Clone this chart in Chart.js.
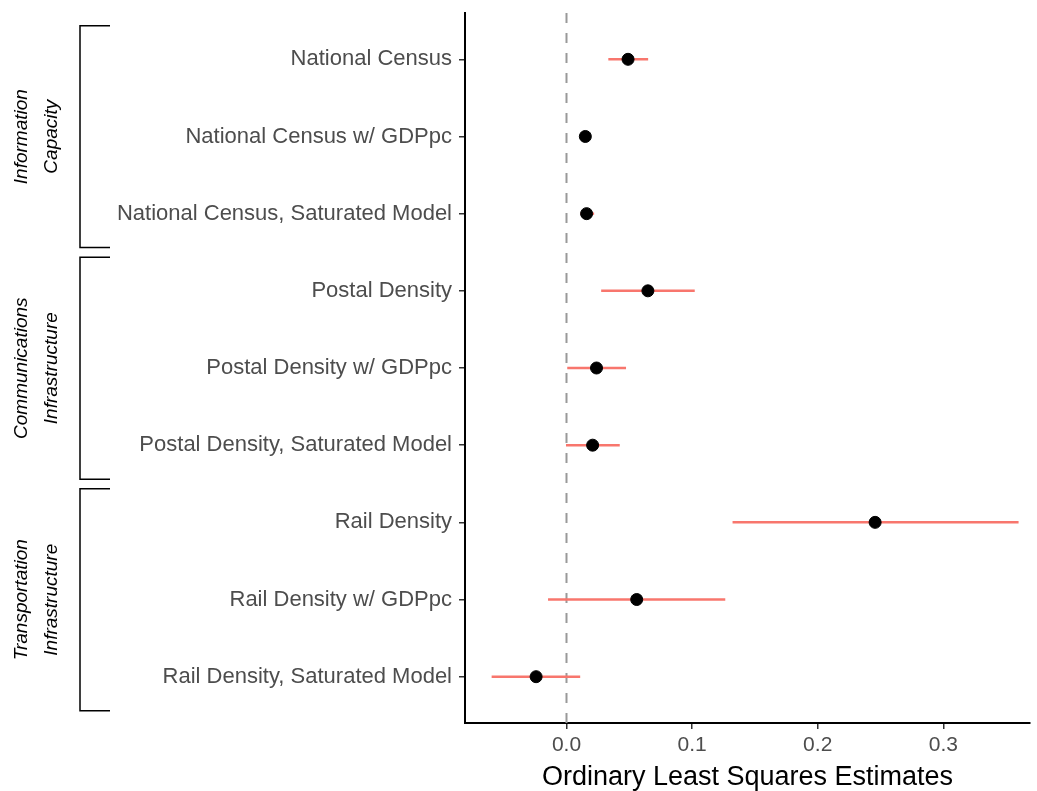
<!DOCTYPE html>
<html>
<head>
<meta charset="utf-8">
<script src="https://cdn.jsdelivr.net/npm/chart.js@4.4.1/dist/chart.umd.min.js"></script>
<style>
  html, body { margin: 0; padding: 0; background: #fff; overflow: hidden; }
  #olsChart { display: block; }
</style>
</head>
<body>
<canvas id="olsChart" width="1037" height="791"></canvas>
<script>
// model labels, top to bottom
const models = [
    'National Census',
    'National Census w/ GDPpc',
    'National Census, Saturated Model',
    'Postal Density',
    'Postal Density w/ GDPpc',
    'Postal Density, Saturated Model',
    'Rail Density',
    'Rail Density w/ GDPpc',
    'Rail Density, Saturated Model'
];
const estimates = [0.049, 0.015, 0.016, 0.0648, 0.0239, 0.0208, 0.2457, 0.0559, -0.0242];
const lower     = [0.0333, 0.013, 0.011, 0.0276, 0.0006, -0.0004, 0.1322, -0.0147, -0.0596];
const upper     = [0.065, 0.018, 0.022, 0.1021, 0.0474, 0.0424, 0.3599, 0.1264, 0.0109];

// bracket groups (first and last row, 1-based)
const groupNames = [['Information', 'Capacity'], ['Communications', 'Infrastructure'], ['Transportation', 'Infrastructure']];
const groupFirst = [1, 4, 7];
const groupLast  = [3, 6, 9];

const xTicks = [0, 0.1, 0.2, 0.3];
const xTitle = 'Ordinary Least Squares Estimates';

const FONT = '"Liberation Sans", Arial, sans-serif';

const pointData = estimates.map((v, i) => ({ x: v, y: i + 1 }));

const errorSets = models.map((m, i) => ({
    type: 'line',
    label: m + ' CI',
    data: [{ x: lower[i], y: i + 1 }, { x: upper[i], y: i + 1 }],
    borderColor: '#F8766D',
    borderWidth: 2.5,
    pointRadius: 0,
    fill: false
}));

// bracket + group label drawing
const bracketPlugin = {
    id: 'groupBrackets',
    afterDraw(chart) {
        const c = chart.ctx;
        const y = chart.scales.y;
        c.save();
        c.strokeStyle = '#000';
        c.lineWidth = 1.5;
        for (let g = 0; g < groupNames.length; g++) {
            const top = y.getPixelForValue(groupFirst[g] - 0.435);
            const bot = y.getPixelForValue(groupLast[g] + 0.44);
            c.beginPath();
            c.moveTo(110, top);
            c.lineTo(80, top);
            c.lineTo(80, bot);
            c.lineTo(110, bot);
            c.stroke();

            const mid = (top + bot) / 2;
            c.fillStyle = '#000';
            c.font = 'italic 19px ' + FONT;
            c.textAlign = 'center';
            c.textBaseline = 'middle';
            groupNames[g].forEach((line, k) => {
                c.save();
                c.translate(22 + k * 30, mid);
                c.rotate(-Math.PI / 2);
                c.fillText(line, 0, 0);
                c.restore();
            });
        }
        c.restore();
    }
};

new Chart(document.getElementById('olsChart'), {
    type: 'scatter',
    data: {
        datasets: [
            {
                label: 'Estimate',
                data: pointData,
                backgroundColor: '#000',
                borderColor: '#000',
                pointRadius: 6,
                pointHoverRadius: 6
            },
            ...errorSets,
            {
                type: 'line',
                label: 'zero',
                data: [{ x: 0, y: 0.4 }, { x: 0, y: 9.6 }],
                borderColor: '#999999',
                borderWidth: 2,
                borderDash: [10, 10],
                pointRadius: 0,
                fill: false
            }
        ]
    },
    options: {
        responsive: false,
        animation: false,
        layout: { padding: { top: 13, right: 0, left: 0, bottom: 0 } },
        plugins: {
            legend: { display: false },
            tooltip: { enabled: false }
        },
        scales: {
            x: {
                type: 'linear',
                min: -0.0808,
                max: 0.369,
                afterBuildTicks: s => { s.ticks = xTicks.map(v => ({ value: v })); },
                afterFit: s => { s.height = 68; s.paddingLeft = 0; s.paddingRight = 0; },
                grid: { drawOnChartArea: false, drawTicks: true, tickLength: 6, color: '#333', lineWidth: 1.5 },
                border: { display: true, color: '#000', width: 2 },
                ticks: {
                    color: '#4D4D4D',
                    font: { family: FONT, size: 21 },
                    padding: 4,
                    callback: v => v.toFixed(1)
                },
                title: {
                    display: true,
                    text: xTitle,
                    color: '#000',
                    font: { family: FONT, size: 27, lineHeight: 1.0 },
                    padding: { top: 4, bottom: 0 }
                }
            },
            y: {
                type: 'linear',
                reverse: true,
                min: 0.4,
                max: 9.6,
                afterBuildTicks: s => { s.ticks = models.map((m, i) => ({ value: i + 1 })); },
                afterFit: s => { s.width = 465; s.paddingTop = 0; s.paddingBottom = 0; },
                grid: { drawOnChartArea: false, drawTicks: true, tickLength: 6, color: '#333', lineWidth: 1.5 },
                border: { display: true, color: '#000', width: 2 },
                ticks: {
                    color: '#4D4D4D',
                    font: { family: FONT, size: 22 },
                    padding: 7,
                    autoSkip: false,
                    callback: v => models[Math.round(v) - 1]
                }
            }
        }
    },
    plugins: [bracketPlugin]
});
</script>
</body>
</html>
